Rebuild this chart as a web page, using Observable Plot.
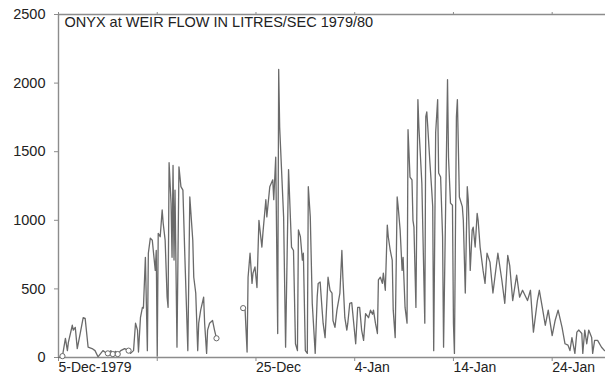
<!DOCTYPE html>
<html><head><meta charset="utf-8">
<script src="https://cdn.jsdelivr.net/npm/d3@7"></script>
<script src="https://cdn.jsdelivr.net/npm/@observablehq/plot@0.6"></script>
<style>body{margin:0;background:#fff}</style>
</head><body><div id="chart"></div>
<script>
const title = "ONYX at WEIR FLOW IN LITRES/SEC 1979/80";
const startDate = "1979-12-05";
const endDay = 55.4;
// [days after 5-Dec-1979, flow in litres/sec]
const flowDec = [[0,0],[0.4,10],[0.7,140],[0.9,50],[1.0,110],[1.4,235],[1.5,200],[1.7,220],[1.9,65],[2.2,175],
 [2.5,290],[2.7,285],[3.0,75],[3.4,65],[3.7,50],[4.0,5],[4.5,50],[4.8,35],[5.0,30],[5.3,50],
 [5.5,25],[5.8,45],[6.0,25],[6.3,50],[6.7,65],[7.1,50],[7.3,30],[7.6,50],[7.8,250],[8.0,200],
 [8.1,40],[8.3,290],[8.5,365],[8.6,360],[8.8,730],[9.0,50],[9.1,760],[9.3,870],[9.5,855],[9.6,780],
 [9.8,635],[9.9,780],[10.0,10],[10.1,905],[10.3,880],[10.5,1075],[10.6,980],[10.8,855],[11.0,440],[11.1,365],
 [11.2,1420],[11.4,1125],[11.5,730],[11.6,1400],[11.7,710],[11.8,1220],[12.0,75],[12.2,1390],[12.4,1245],[12.6,1220],
 [12.8,730],[13.1,50],[13.3,1170],[13.6,855],[13.7,585],[13.9,470],[14.1,50],[14.2,250],[14.4,345],[14.7,440],
 [14.8,250],[15.0,30],[15.1,200],[15.3,250],[15.6,270],[15.8,200],[16.0,140]];
const flowJan = [[18.7,360],[18.9,345],[19.1,40],[19.2,585],[19.4,760],[19.6,540],[19.7,615],[19.9,660],[20.1,510],[20.3,1000],
 [20.6,805],[20.7,905],[21.0,1150],[21.1,1025],[21.4,1245],[21.7,1295],[21.8,1150],[22.0,1460],[22.2,175],[22.3,2100],
 [22.4,1680],[22.8,1025],[23.0,75],[23.3,1370],[23.6,805],[23.8,780],[24.0,100],[24.2,50],[24.3,930],[24.5,880],
 [24.7,710],[24.8,760],[25.0,50],[25.2,30],[25.3,1245],[25.5,1025],[25.7,395],[26.0,30],[26.2,440],[26.3,540],
 [26.5,550],[26.7,345],[26.8,250],[27.0,145],[27.3,585],[27.5,490],[27.7,470],[27.8,270],[28.0,220],[28.2,345],
 [28.5,470],[28.7,780],[28.8,585],[29.0,290],[29.2,200],[29.3,250],[29.5,395],[29.7,400],[29.9,250],[30.1,100],
 [30.3,365],[30.5,365],[30.7,200],[30.9,125],[31.1,320],[31.4,290],[31.6,345],[31.8,315],[31.9,345],[32.1,250],
 [32.3,175],[32.4,565],[32.6,585],[32.8,540],[32.9,615],[33.1,490],[33.3,965],[33.4,880],[33.6,780],[33.8,710],
 [33.9,345],[34.1,145],[34.3,1170],[34.4,1100],[34.6,930],[34.8,635],[34.9,730],[35.1,365],[35.3,250],[35.4,1660],
 [35.6,1315],[35.8,1295],[35.9,1000],[36.0,950],[36.2,365],[36.4,1880],[36.5,1680],[36.8,1270],[36.9,930],[37.1,250],
 [37.2,1755],[37.3,1790],[37.4,1680],[37.6,1440],[37.8,1220],[37.9,1100],[38.0,50],[38.2,1640],[38.4,1880],[38.5,1345],
 [38.7,1315],[38.9,880],[39.0,75],[39.4,2025],[39.5,1460],[39.7,1125],[39.9,1110],[40.0,250],[40.1,30],[40.3,1755],
 [40.4,1880],[40.6,1170],[40.9,1100],[41.0,1000],[41.2,470],[41.4,1245],[41.5,1150],[41.7,635],[41.9,930],[42.0,950],
 [42.2,805],[42.4,1050],[42.5,1000],[42.7,805],[43.0,635],[43.2,540],[43.4,760],[43.7,695],[44.0,470],[44.5,760],
 [44.9,565],[45.2,395],[45.5,745],[45.7,670],[46.0,415],[46.4,600],[46.7,440],[47.0,490],[47.5,415],[47.8,490],
 [48.1,185],[48.5,415],[48.7,490],[49.0,365],[49.3,235],[49.6,345],[50.0,160],[50.3,270],[50.6,345],[51.0,220],
 [51.3,100],[51.6,90],[51.8,50],[52.0,145],[52.3,30],[52.5,185],[52.7,200],[53.0,175],[53.1,30],[53.3,200],
 [53.5,100],[53.7,200],[54.0,145],[54.1,30],[54.3,125],[54.6,125],[55.0,75],[55.3,50]];
const markers = [[0.4,10],[5.0,30],[5.5,25],[6.0,25],[7.1,50],[16.0,140],[18.7,360]];
const xTickDays = [0,10,20,30,40,50];
const xTickLabels = ["5-Dec-1979","","25-Dec","4-Jan","14-Jan","24-Jan"];
const yTicks = [0,500,1000,1500,2000,2500];

const t0 = Date.parse(startDate + "T00:00:00Z");
const toDate = d => new Date(t0 + d * 864e5);
const rows = [
  ...flowDec.map(([d, v]) => ({date: toDate(d), flow: v, seg: "dec"})),
  ...flowJan.map(([d, v]) => ({date: toDate(d), flow: v, seg: "jan"}))
];
const markerRows = markers.map(([d, v]) => ({date: toDate(d), flow: v}));
const tickDates = xTickDays.map(toDate);
const labelOf = new Map(tickDates.map((t, i) => [+t, xTickLabels[i]]));
const axisGray = "#8c8c8c";

const chart = Plot.plot({
  width: 605, height: 374,
  marginLeft: 58, marginRight: 0, marginTop: 14, marginBottom: 17,
  style: {fontFamily: "'Liberation Sans', Arial, sans-serif", fontSize: "14px", color: "#222", background: "#fff"},
  x: {type: "utc", domain: [toDate(0), toDate(endDay)]},
  y: {domain: [0, 2500]},
  marks: [
    Plot.ruleY([0, 2500], {stroke: axisGray, strokeWidth: 1.4}),
    Plot.ruleX([toDate(0)], {stroke: axisGray, strokeWidth: 1.4}),
    Plot.axisX({ticks: tickDates, tickFormat: d => labelOf.get(+d), tickSize: 4, tickPadding: 1,
      textAnchor: "start", stroke: axisGray, fill: "#222", fontSize: 14, label: null}),
    Plot.axisX({anchor: "top", ticks: tickDates, tickFormat: () => "", tickSize: 3, stroke: axisGray, label: null}),
    Plot.axisY({ticks: yTicks, tickFormat: d => String(d), tickSize: 4, tickPadding: 9, stroke: axisGray, fill: "#222", fontSize: 14.5, label: null}),
    Plot.line(rows, {x: "date", y: "flow", z: "seg", stroke: "#6a6a6a", strokeWidth: 1.3}),
    Plot.dot(markerRows, {x: "date", y: "flow", r: 2.6, stroke: "#6a6a6a", fill: "white", strokeWidth: 1}),
    Plot.text([title], {frameAnchor: "top-left", dx: 6, dy: 2, textAnchor: "start", lineAnchor: "top", fontSize: 14.5, fill: "#222"})
  ]
});
document.getElementById("chart").appendChild(chart);
</script>
</body></html>
